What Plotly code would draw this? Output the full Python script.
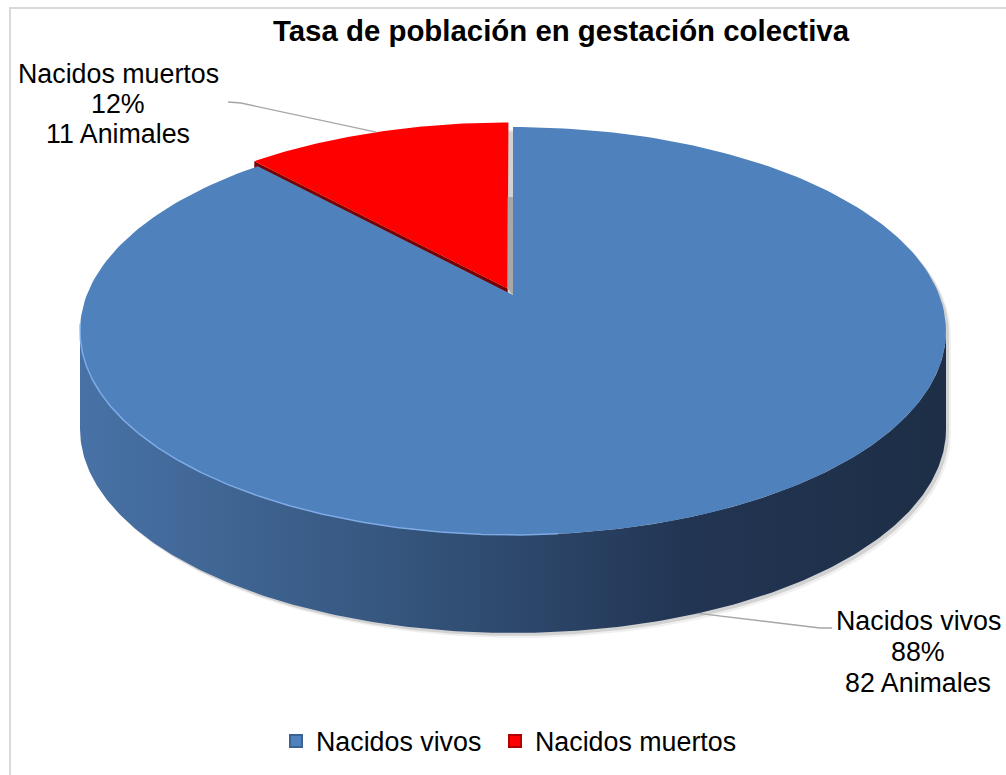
import numpy as np
import plotly.graph_objects as go

# ---- data -------------------------------------------------------------
categories = ["Nacidos vivos", "Nacidos muertos"]
animals = [82, 11]
slice_colors = ["#4f81bd", "#ff0000"]
side_colors = ["#4f81bd", "#780000"]
unit_label = "Animales"
chart_title = "Tasa de población en gestación colectiva"

# ---- 3-D pie geometry (pixel space) ----------------------------------
W, H = 1006, 775
CX, CY = 513.0, 295.0          # projected pie centre
AX, BY, K = 426.2, 197.6, 0.1765  # radii and perspective factor
DEPTH = 98.0                   # thickness of the pie
EXPLODE = [0.0, 0.035]         # radial offset per slice
FONT = "Liberation Sans, Arial, sans-serif"


def project(u, v, drop=0.0):
    u = np.asarray(u, dtype=float)
    v = np.asarray(v, dtype=float)
    s = 1.0 + K * v
    return CX + AX * u / s, CY - BY * v / s + drop


def arc(t0, t1, off=(0.0, 0.0), drop=0.0, n=240):
    th = np.radians(np.linspace(t0, t1, n))
    return project(np.sin(th) + off[0], np.cos(th) + off[1], drop)


total = sum(animals)
fractions = [v / total for v in animals]
starts = np.concatenate([[0.0], np.cumsum(fractions)[:-1]]) * 360.0
ends = starts + np.array(fractions) * 360.0
mids = (starts + ends) / 2.0
offsets = [(e * np.sin(np.radians(m)), e * np.cos(np.radians(m)))
           for e, m in zip(EXPLODE, mids)]

fig = go.Figure()


def poly(x, y, **kw):
    fig.add_trace(go.Scatter(x=list(x), y=list(y), mode="lines", fill="toself",
                             line=dict(width=0), hoverinfo="skip",
                             showlegend=False, **kw))


# rim angles where the visible side starts/ends
t_side = np.degrees(np.arccos(-K))

# soft drop shadow
bx, by = arc(-t_side, t_side)
fx, fy = arc(t_side, 360 - t_side, drop=DEPTH)
sil_x = np.concatenate([bx, fx])
sil_y = np.concatenate([by, fy])
poly(sil_x + 5, sil_y + 5, fillcolor="rgba(0,0,0,0.06)")
poly(sil_x + 3, sil_y + 3, fillcolor="rgba(0,0,0,0.12)")

# front side of the large slice, shaded left to right
tx, ty = arc(t_side, 360 - t_side)
dx, dy = arc(360 - t_side, t_side, drop=DEPTH)
half_w = AX / np.sqrt(1 - K * K)
poly(np.concatenate([tx, dx]), np.concatenate([ty, dy]),
     fillcolor="#2c4567",
     fillgradient=dict(type="horizontal", start=float(CX - half_w), stop=float(CX + half_w),
                       colorscale=[[0, "#4872a6"], [0.35, "#36577f"],
                                   [0.7, "#223553"], [1, "#1d2e46"]]))

# radial face of the exploded slice
i = 1
ou, ov = offsets[i]
ax_, ay_ = project(ou, ov)
c = np.radians(starts[i])
cx_, cy_ = project(np.sin(c) + ou, np.cos(c) + ov)
poly([ax_, cx_, cx_, ax_], [ay_, cy_, cy_ + DEPTH, ay_ + DEPTH],
     fillcolor=side_colors[i])

# top faces
for j in range(len(categories)):
    ou, ov = offsets[j]
    ax_, ay_ = project(ou, ov)
    px, py = arc(starts[j], ends[j], off=(ou, ov))
    poly(np.concatenate([[ax_], px, [ax_]]), np.concatenate([[ay_], py, [ay_]]),
         fillcolor=slice_colors[j])

# shaded gap between the exploded slice and the large slice
ru, rv = offsets[1]
rx, ry = project(ru, rv)
poly([rx, CX, CX, rx], [CY - DEPTH, CY - DEPTH, CY, ry], fillcolor="#a8a8a8")

# light rim on the front-left edge of the top
hx, hy = arc(175, 262)
fig.add_trace(go.Scatter(x=hx, y=hy, mode="lines", hoverinfo="skip", showlegend=False,
                         line=dict(color="rgba(130,175,235,0.9)", width=1.5)))

# ---- data labels with leader lines -----------------------------------
label_pos = [(918, [621, 652, 683]), (118, [74, 104, 134])]
leader_end = [(832, 628, 820, 628), (228, 102, 241, 103)]
for j, name in enumerate(categories):
    ou, ov = offsets[j]
    m = np.radians(mids[j])
    drop = DEPTH if np.cos(m) < 0 else 0.0
    sx, sy = project(np.sin(m) + ou, np.cos(m) + ov, drop)
    ex, ey, kx, ky = leader_end[j]
    fig.add_trace(go.Scatter(x=[float(sx), kx, ex], y=[float(sy), ky, ey], mode="lines",
                             hoverinfo="skip", showlegend=False,
                             line=dict(color="#a6a6a6", width=1.3)))
    lx, lys = label_pos[j]
    lines = [name, f"{round(fractions[j] * 100)}%", f"{animals[j]} {unit_label}"]
    for txt, ly in zip(lines, lys):
        fig.add_annotation(x=lx, y=ly, text=txt, showarrow=False, xanchor="center",
                           yanchor="middle", font=dict(family=FONT, size=26.8, color="#000"))

# title
fig.add_annotation(x=561.5, y=30, text=f"<b>{chart_title}</b>", showarrow=False,
                   xanchor="center", yanchor="middle",
                   font=dict(family=FONT, size=29.4, color="#000"))

# legend entries, one legend box per entry so each can be placed on its own
legend_edges = ["#3a6394", "#b00000"]
legend_ids = ["legend", "legend2"]
legend_left = [276, 495]
for j, name in enumerate(categories):
    fig.add_trace(go.Scatter(x=[None], y=[None], mode="markers", name=name,
                             legend=legend_ids[j],
                             marker=dict(symbol="square", size=15, color=slice_colors[j],
                                         line=dict(color=legend_edges[j], width=1))))

legend_style = dict(orientation="h", xanchor="left", y=1 - 741 / H, yanchor="middle",
                    font=dict(family=FONT, size=26.8, color="#000"),
                    bgcolor="rgba(0,0,0,0)", itemsizing="constant")

# chart frame
fig.add_shape(type="rect", x0=10, y0=8, x1=W + 20, y1=H + 20,
              line=dict(color="#d9d9d9", width=2), fillcolor="rgba(0,0,0,0)", layer="below")

fig.update_layout(
    width=W, height=H, autosize=False,
    margin=dict(l=0, r=0, t=0, b=0),
    paper_bgcolor="white", plot_bgcolor="white",
    xaxis=dict(range=[0, W], visible=False, fixedrange=True),
    yaxis=dict(range=[H, 0], visible=False, fixedrange=True),
    hovermode=False,
    legend=dict(x=legend_left[0] / W, **legend_style),
    legend2=dict(x=legend_left[1] / W, **legend_style),
)

fig.write_html("out.html")
